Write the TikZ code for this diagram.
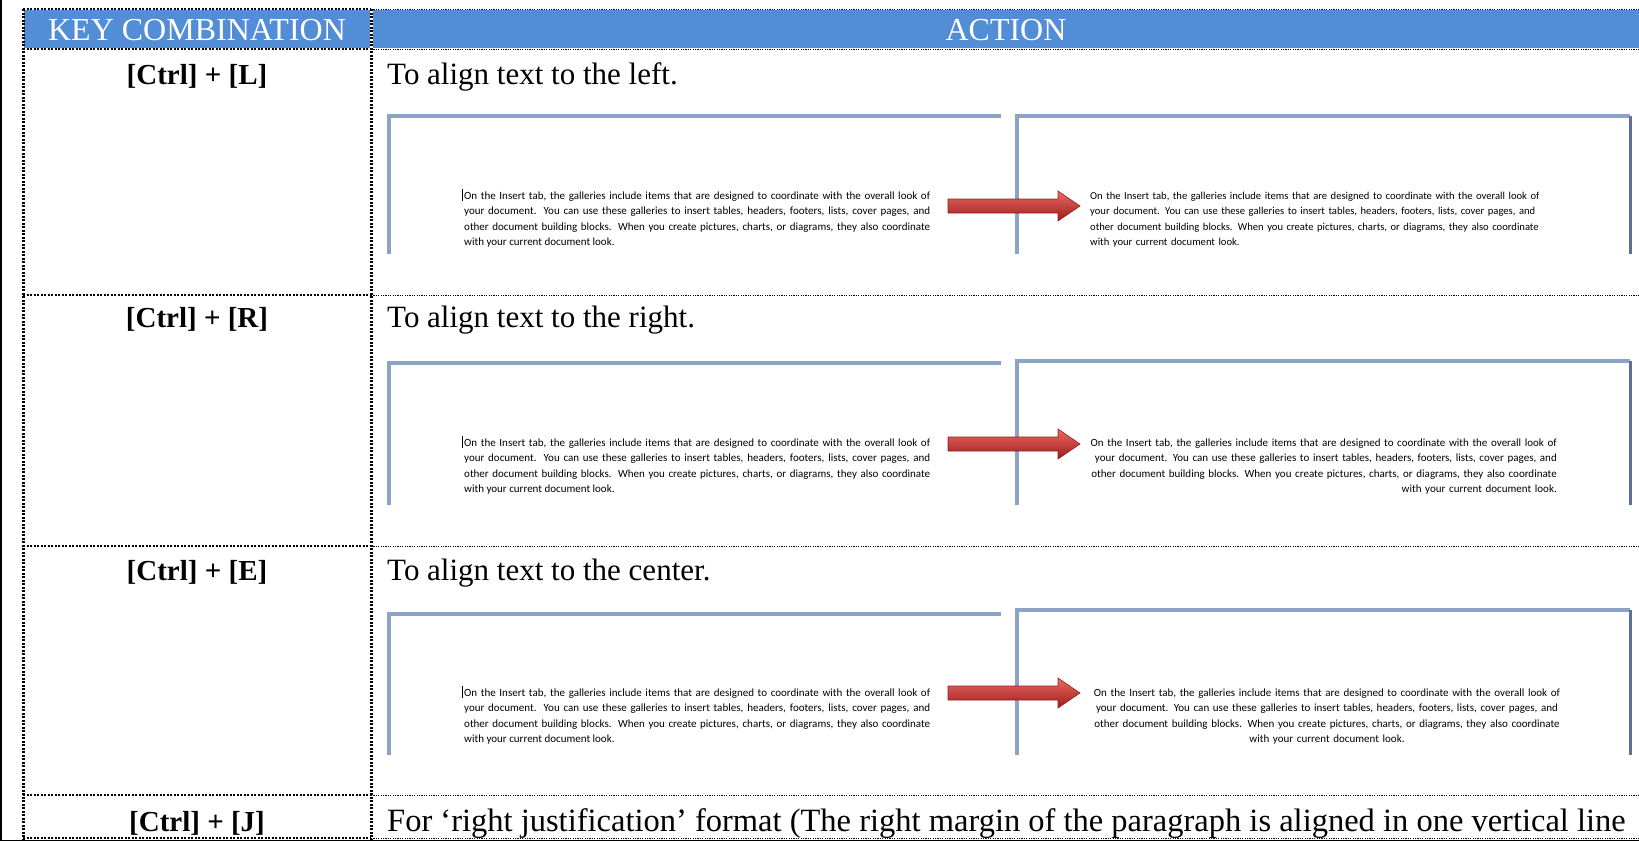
\documentclass[tikz,border=0pt]{standalone}
\usepackage{fontspec}
\setmainfont{Liberation Serif}
\newfontfamily\shotfont{Carlito}

\definecolor{headblue}{RGB}{83,141,213}
\definecolor{pageedge}{RGB}{140,163,198}
\definecolor{pageedgedark}{RGB}{92,114,154}
\definecolor{arrowtop}{RGB}{232,108,100}
\definecolor{arrowbot}{RGB}{160,26,26}
\definecolor{arrowline}{RGB}{140,35,35}

% sample paragraph shown in the screenshots
\newcommand{\shottext}[1]{On the Insert tab, the galleries include items that are designed to coordinate with the overall look of#1your document. You can use these galleries to insert tables, headers, footers, lists, cover pages, and#1other document building blocks. When you create pictures, charts, or diagrams, they also coordinate#1with your current document look.}

\begin{document}
\begin{tikzpicture}[x=1pt, y=-1pt,
    keyrule/.style={line width=3pt, dash pattern=on 2pt off 1.5pt},
    actrule/.style={line width=1pt, dash pattern=on 1.2pt off 1.2pt},
    head/.style={text=white, font=\fontsize{32}{34}\selectfont, anchor=base, inner sep=0pt},
    keylabel/.style={font=\fontsize{29}{34}\selectfont\bfseries, anchor=base, inner sep=0pt},
    action/.style={font=\fontsize{31}{36}\selectfont, anchor=base west, inner sep=0pt},
    sample/.style={font=\shotfont\fontsize{11}{15.5}\selectfont, inner sep=0pt, text width=#1},
    pageline/.style={pageedge, line width=3.5pt},
    redarrow/.style={top color=arrowtop, bottom color=arrowbot, draw=arrowline, line width=0.6pt}]
    \useasboundingbox (0,0) rectangle (1639,841);

    % Header fill
    \fill[headblue] (24,10) rectangle (370,48);
    \fill[headblue] (373,10) rectangle (1639,48);
    \node[head] (hdkey) at (197,40) {KEY COMBINATION};
    \node[head] (hdact) at (1006,40) {ACTION};

    % Table rules
    \draw[line width=2pt] (1,0) -- (1,841);
    \draw[keyrule] (23,9) -- (23,841);
    \draw[keyrule] (371,9) -- (371,841);
    \foreach \y in {9,49,295,546,795,838} {
        \draw[keyrule, line width=2pt] (23,\y) -- (371,\y);
        \draw[actrule] (371,\y) -- (1639,\y);
    }
    \draw[line width=1.5pt] (0,840.5) -- (1639,840.5);

    % Row [Ctrl] + [L]
    \node[keylabel] (keyL) at (197,84) {[Ctrl] + [L]};
    \node[action] (actL) at (387,84) {To align text to the left.};
    \draw[pageline] (389,254) -- (389,116) -- (1001,116);
    \draw[pageline] (1017,254) -- (1017,116) -- (1630,116);
    \draw[pageedgedark, line width=3pt] (1630,116) -- (1630,254);
    \draw[line width=0.7pt] (462,189) -- (462,201);
    \node[sample=466pt, align=justify, anchor=base west] (shotL1) at (464,199) {\shottext{\linebreak}};
    \node[sample=500pt, align=left, anchor=base west, font=\shotfont\fontsize{10.6}{15.5}\selectfont] (shotL2) at (1090,199) {\shottext{\\}};
    \shade[redarrow] (948,199) -- (1058,199) -- (1058,191) -- (1080,206) -- (1058,221) -- (1058,213) -- (948,213) -- cycle;

    % Row [Ctrl] + [R]
    \node[keylabel] (keyR) at (197,327) {[Ctrl] + [R]};
    \node[action] (actR) at (387,327) {To align text to the right.};
    \draw[pageline] (389,505) -- (389,363) -- (1001,363);
    \draw[pageline] (1017,505) -- (1017,361) -- (1630,361);
    \draw[pageedgedark, line width=3pt] (1630,361) -- (1630,505);
    \draw[line width=0.7pt] (462,436) -- (462,448);
    \node[sample=466pt, align=justify, anchor=base west] (shotR1) at (464,446) {\shottext{\linebreak}};
    \node[sample=500pt, align=right, anchor=base east] (shotR2) at (1557,446) {\shottext{\\}};
    \shade[redarrow] (948,437) -- (1058,437) -- (1058,429) -- (1080,444) -- (1058,459) -- (1058,451) -- (948,451) -- cycle;

    % Row [Ctrl] + [E]
    \node[keylabel] (keyE) at (197,580) {[Ctrl] + [E]};
    \node[action] (actE) at (387,580) {To align text to the center.};
    \draw[pageline] (389,755) -- (389,614) -- (1001,614);
    \draw[pageline] (1017,755) -- (1017,610) -- (1630,610);
    \draw[pageedgedark, line width=3pt] (1630,610) -- (1630,755);
    \draw[line width=0.7pt] (462,686) -- (462,698);
    \node[sample=466pt, align=justify, anchor=base west] (shotE1) at (464,696) {\shottext{\linebreak}};
    \node[sample=500pt, align=center, anchor=base] (shotE2) at (1327,696) {\shottext{\\}};
    \shade[redarrow] (948,686) -- (1058,686) -- (1058,678) -- (1080,693) -- (1058,708) -- (1058,700) -- (948,700) -- cycle;

    % Row [Ctrl] + [J]
    \node[keylabel] (keyJ) at (197,831) {[Ctrl] + [J]};
    \node[action, font=\fontsize{32.5}{36}\selectfont] (actJ) at (387,831) {For ‘right justification’ format (The right margin of the paragraph is aligned in one vertical line};
\end{tikzpicture}
\end{document}
